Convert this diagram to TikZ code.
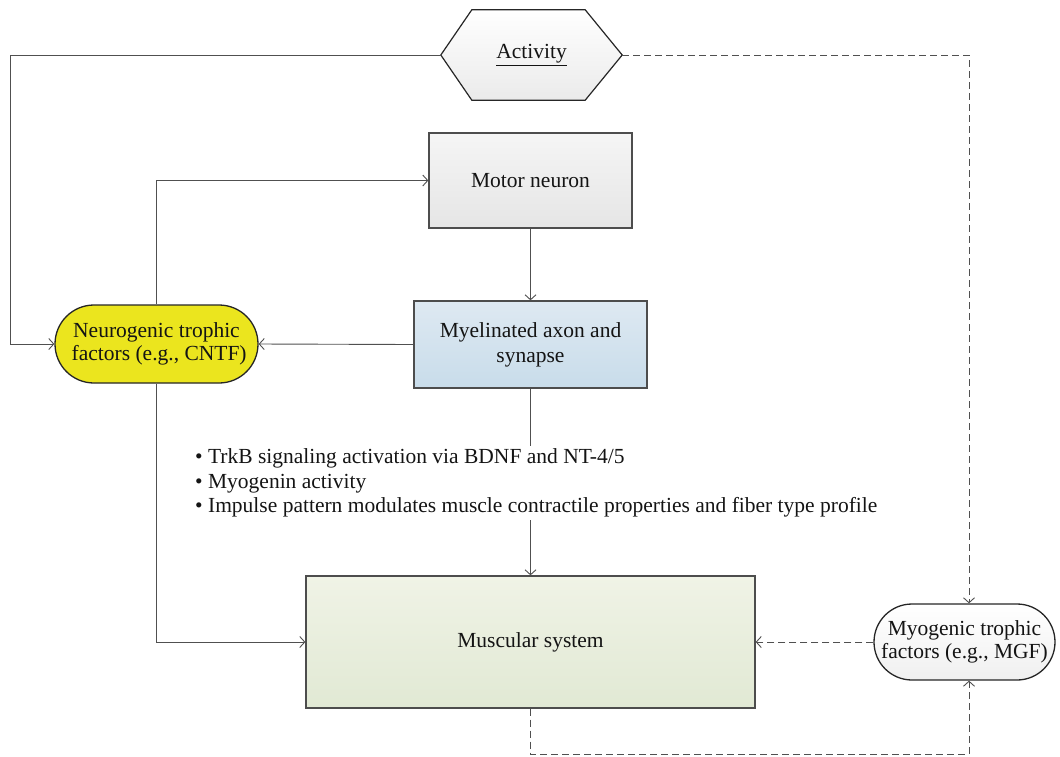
\documentclass[tikz,border=0pt]{standalone}
\usepackage{fontspec}
\setmainfont{Liberation Serif}
\usetikzlibrary{arrows.meta,calc}
\definecolor{linegray}{HTML}{505050}
\definecolor{boxline}{HTML}{4D4D4D}
\definecolor{txt}{HTML}{141414}
\definecolor{yel}{HTML}{EBE51E}
\tikzset{
  x=1pt, y=-1pt,
  box/.style={draw=boxline, line width=1.3pt, align=center, text=txt,
    font=\fontsize{21.5}{25}\selectfont, inner sep=0pt},
  conn/.style={draw=linegray, line width=0.9pt, -{Straight Barb[length=5pt,width=11pt]}},
  plain/.style={draw=linegray, line width=0.9pt},
  dconn/.style={conn, dash pattern=on 7pt off 4pt},
  dplain/.style={plain, dash pattern=on 7pt off 4pt},
}
\begin{document}
\begin{tikzpicture}
\useasboundingbox (0,0) rectangle (1060,756);
% Activity hexagon
\node[minimum width=181pt, minimum height=90pt, inner sep=0pt, text=txt,
  font=\fontsize{21.5}{25}\selectfont] (act) at (531.5,55) {};
\shade[top color=white, bottom color=black!8, draw=black!85, line width=1.2pt]
  (act.west) -- ($(act.north west)+(31,0)$) -- ($(act.north east)+(-37,0)$) -- (act.east)
  -- ($(act.south east)+(-37,0)$) -- ($(act.south west)+(31,0)$) -- cycle;
\node[text=txt, font=\fontsize{21.5}{25}\selectfont] (acttext) at (act.center) {\underline{Activity}};

\node[box, minimum width=203pt, minimum height=95pt, top color=black!4, bottom color=black!10]
  (motor) at (530.5,180.5) {Motor neuron};
\node[box, minimum width=233pt, minimum height=87pt, top color={rgb,255:red,222;green,233;blue,242}, bottom color={rgb,255:red,200;green,220;blue,234}]
  (myel) at (530.5,344.5) {Myelinated axon and\\synapse};
\node[box, draw=black!85, minimum width=203pt, minimum height=78pt, rounded corners=39pt, fill=yel]
  (neuro) at (156.5,344) {Neurogenic trophic\\[-2pt]\ factors (e.g., CNTF)};
\node[box, minimum width=449pt, minimum height=132pt, top color={rgb,255:red,240;green,243;blue,230}, bottom color={rgb,255:red,225;green,233;blue,212}]
  (musc) at (530.5,642) {Muscular system};
\node[box, draw=black!85, minimum width=181pt, minimum height=76pt, rounded corners=38pt, top color=white, bottom color=black!6]
  (myog) at (964.5,642) {Myogenic trophic\\[-2pt]factors (e.g., MGF)};

\node[anchor=west, align=left, text=txt, inner xsep=0pt, inner ysep=3pt,
  font=\fontsize{21.5}{24.5}\selectfont] (bul) at (195,483)
  {\textbullet\ TrkB signaling activation via BDNF and NT-4/5\\
   \textbullet\ Myogenin activity\\
   \textbullet\ Impulse pattern modulates muscle contractile properties and fiber type profile};

\coordinate (L) at (10,55);
\coordinate (R) at (969,55);
\coordinate (B) at (969,754);

\draw[conn] (act.west) -- (L) |- (neuro.west);
\draw[dconn] (act.east) -- (R) -- (R |- myog.north);
\draw[conn] (neuro.north) |- (motor.west);
\draw[conn] (motor.south) -- (myel.north);
\draw[conn] (myel.west) -- (neuro.east);
\draw[plain] (myel.south) -- (myel.south |- bul.north);
\draw[conn] (musc.north |- bul.south) -- (musc.north);
\draw[conn] (neuro.south) |- (musc.west);
\draw[dconn] (myog.west) -- (musc.east);
\draw[dconn] (musc.south) |- (B) -- (B |- myog.south);
\end{tikzpicture}
\end{document}
